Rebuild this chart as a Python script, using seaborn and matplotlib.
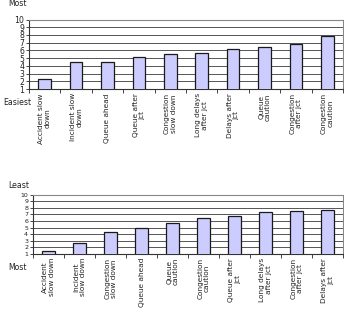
import matplotlib
matplotlib.use("Agg")
import matplotlib.pyplot as plt
import seaborn as sns
import pandas as pd
import numpy as np

top_categories = ["Accident slow\ndown", "Incident slow\ndown", "Queue ahead", "Queue after\njct",
                  "Congestion\nslow down", "Long delays\nafter jct", "Delays after\njct",
                  "Queue\ncaution", "Congestion\nafter jct", "Congestion\ncaution"]
top_values = [2.25, 4.45, 4.45, 5.15, 5.57, 5.7, 6.14, 6.44, 6.87, 7.83]

bottom_categories = ["Accident\nslow down", "Incident\nslow down", "Congestion\nslow down",
                     "Queue ahead", "Queue\ncaution", "Congestion\ncaution", "Queue after\njct",
                     "Long delays\nafter jct", "Congestion\nafter jct", "Delays after\njct"]
bottom_values = [1.35, 2.6, 4.26, 4.96, 5.63, 6.38, 6.72, 7.3, 7.6, 7.72]

y_ticks = list(range(1, 11))

sns.set_theme(style="white")
plt.rcParams['font.family'] = ['DejaVu Sans']

fig = plt.figure(figsize=(3.44, 3.12), dpi=100)
ax1 = fig.add_axes([0.0843, 0.7147, 0.9127, 0.2228])
ax2 = fig.add_axes([0.096, 0.1869, 0.901, 0.1887])

def draw(ax, cats, vals, yfs):
    df = pd.DataFrame({"cat": cats, "val": vals})
    sns.barplot(data=df, x="cat", y="val", ax=ax, color="#CCCCFF", saturation=1,
                edgecolor="#1a1a1a", linewidth=0.9, width=0.4, zorder=3)
    ax.set_ylim(1, 10)
    ax.set_xlim(-0.5, len(cats) - 0.5)
    ax.set_yticks(y_ticks)
    ax.set_yticklabels([str(t) for t in y_ticks], fontsize=yfs, color="#222222")
    for t in y_ticks[1:]:
        ax.axhline(t, color="#555555", lw=0.7, zorder=1)
    ax.set_xlabel("")
    ax.set_ylabel("")
    ax.set_xticks(range(len(cats)))
    ax.set_xticklabels(cats, rotation=90, fontsize=5.3, color="#222222", linespacing=1.1,
                       va="top", ha="center")
    ax.set_xticks(np.arange(-0.5, len(cats), 1.0), minor=True)
    ax.tick_params(axis="x", which="major", length=0, pad=3)
    ax.tick_params(axis="x", which="minor", length=3, width=0.7, color="#444444", direction="out", bottom=True)
    ax.tick_params(axis="y", which="major", length=2.5, width=0.7, color="#444444", direction="out", left=True, pad=1)
    for s in ["left", "bottom"]:
        ax.spines[s].set_color("#333333")
        ax.spines[s].set_linewidth(0.8)
    for s in ["top", "right"]:
        ax.spines[s].set_color("#888888")
        ax.spines[s].set_linewidth(0.8)
    ax.set_facecolor("white")

draw(ax1, top_categories, top_values, 5.6)
draw(ax2, bottom_categories, bottom_values, 4.5)

fig.text(8 / 344, 1 - 4 / 312, "Most", fontsize=5.6, color="#222222", va="center", ha="left")
fig.text(3 / 344, 1 - 103 / 312, "Easiest", fontsize=5.6, color="#222222", va="center", ha="left")
fig.text(8 / 344, 1 - 186 / 312, "Least", fontsize=5.6, color="#222222", va="center", ha="left")
fig.text(8 / 344, 1 - 268 / 312, "Most", fontsize=5.6, color="#222222", va="center", ha="left")

fig.savefig("out.png", dpi=100, facecolor="white")
